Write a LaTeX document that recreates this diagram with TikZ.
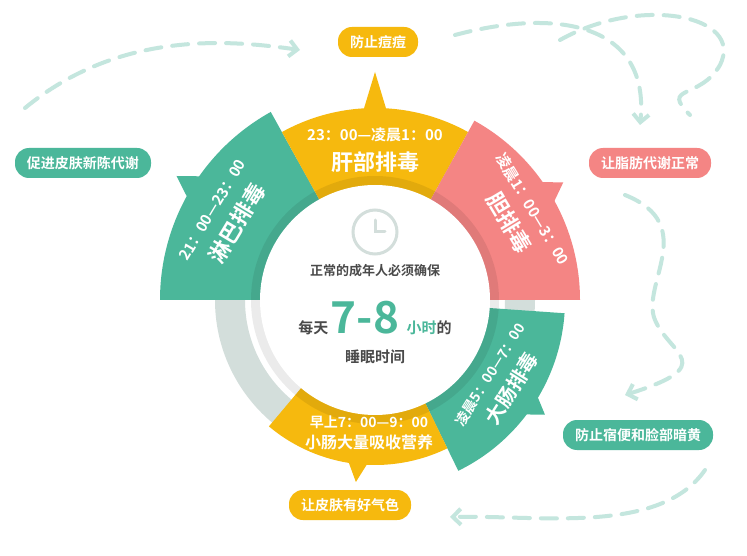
\documentclass[tikz,border=0pt]{standalone}
\usepackage{fontspec}
\setmainfont{Noto Sans CJK SC}[BoldFont={Noto Sans CJK SC Bold}]
\usetikzlibrary{arrows.meta}
\definecolor{cgreen}{HTML}{4BB79A}
\definecolor{cyellow}{HTML}{F6B90E}
\definecolor{cpink}{HTML}{F48584}
\definecolor{cgray}{HTML}{D3DEDB}
\definecolor{cdash}{HTML}{C4E6DE}
\definecolor{ctext}{HTML}{4A4A4A}
% annular sector: colour, start, end, inner, outer
\newcommand\segm[5]{\fill[#1] (#2:#4) arc[start angle=#2,end angle=#3,radius=#4] -- (#3:#5) arc[start angle=#3,end angle=#2,radius=#5] -- cycle;}
% tip on a sector: colour, angle, outer, tip radius
\newcommand\segtip[4]{\fill[#1] (#2-3.5:#3-2) -- (#2:#4) -- (#2+3.5:#3-2) -- cycle;}
\begin{document}
\begin{tikzpicture}[x=1pt,y=1pt,
    pill/.style={rounded corners=14pt,minimum height=30pt,text=white,font=\bfseries\fontsize{14}{16}\selectfont,inner xsep=12pt},
    dashline/.style={cdash,line width=4pt,dash pattern=on 16pt off 11pt,line cap=round,-{Straight Barb[length=8pt,width=16pt,line width=4pt]}},
    timetext/.style={text=white,font=\bfseries\fontsize{15}{17}\selectfont,inner sep=0pt},
    nametext/.style={text=white,font=\bfseries\fontsize{22}{24}\selectfont,inner sep=0pt}]
  \useasboundingbox (0,0) rectangle (747,555);
  \fill[white] (0,0) rectangle (747,555);

  % dashed guides
  \draw[dashline] (25,447) .. controls (120,525) and (230,515) .. (300,505);
  \draw[dashline] (455,520) .. controls (560,548) and (650,530) .. (640,430);
  \draw[cdash,line width=4pt,dash pattern=on 16pt off 11pt,line cap=round] (560,515) .. controls (640,560) and (745,540) .. (720,490) .. controls (700,455) and (660,470) .. (690,440);
  \draw[dashline] (625,360) .. controls (700,330) and (640,270) .. (655,235) .. controls (670,200) and (720,190) .. (625,160);
  \draw[dashline] (705,85) .. controls (660,20) and (540,40) .. (450,38);

  \begin{scope}[shift={(375,255)}]
    % gray ring
    \fill[cgray,even odd rule] (0,0) circle[radius=160] (0,0) circle[radius=130];
    % sectors
    \segm{cgreen}{119}{180}{113}{215}
    \segtip{cgreen}{148}{215}{234}
    \segm{cyellow}{61}{119}{113}{192}
    \segtip{cyellow}{90}{192}{228}
    \segm{cpink}{0}{61}{113}{205}
    \segtip{cpink}{32}{205}{222}
    \segm{cgreen}{-64}{-4}{113}{190}
    \segtip{cgreen}{-34}{190}{205}
    \segm{cyellow}{-130}{-64}{113}{165}
    \segtip{cyellow}{-96}{165}{183}
    % inner shade
    \fill[black,opacity=.08] (0,0) circle[radius=124];
    \fill[white] (0,0) circle[radius=115];
    % clock
    \draw[cgray,line width=3pt] (0,68) circle[radius=22];
    \draw[cgray,line width=3pt,line cap=round] (0,80) -- (0,68) -- (10,68);

    % centre text
    \node[text=ctext,font=\bfseries\fontsize{13}{15}\selectfont] (ctop) at (0,29) {正常的成年人必须确保};
    \node[font=\bfseries,inner sep=0pt] (cmid) at (0,-18) {\fontsize{15}{17}\selectfont\textcolor{ctext}{每天}\,\fontsize{44}{44}\selectfont\textcolor{cgreen}{7-8}\,\fontsize{15}{17}\selectfont\textcolor{cgreen}{小时}\textcolor{ctext}{的}};
    \node[text=ctext,font=\bfseries\fontsize{15}{17}\selectfont] (cbot) at (0,-57) {睡眠时间};

    % sector texts
    \node[timetext,rotate=59] (gtime) at (151:186) {21：00—23：00};
    \node[nametext,rotate=59] (gname) at (151:158) {淋巴排毒};
    \node[timetext] (ytime) at (90:165) {23：00—凌晨1：00};
    \node[nametext] (yname) at (90:138) {肝部排毒};
    \node[timetext,rotate=-59] (ptime) at (30:182) {凌晨1：00—3：00};
    \node[nametext,rotate=-59] (pname) at (30:155) {胆排毒};
    \node[timetext,font=\bfseries\fontsize{14}{16}\selectfont,rotate=58] (ttime) at (-33:137) {凌晨5：00—7：00};
    \node[nametext,font=\bfseries\fontsize{20}{22}\selectfont,rotate=58] (tname) at (-33:163) {大肠排毒};
    \node[timetext,font=\bfseries\fontsize{14}{16}\selectfont] (btime) at (-6,-122) {早上7：00—9：00};
    \node[nametext,font=\bfseries\fontsize{16}{18}\selectfont] (bname) at (-6,-142) {小肠大量吸收营养};
  \end{scope}

  % effect labels
  \node[pill,fill=cyellow] (acne) at (378,513) {防止痘痘};
  \node[pill,fill=cgreen] (skin) at (83,392) {促进皮肤新陈代谢};
  \node[pill,fill=cpink] (fat) at (650,392) {让脂肪代谢正常};
  \node[pill,fill=cgreen] (face) at (638,120) {防止宿便和脸部暗黄};
  \node[pill,fill=cyellow] (glow) at (350,50) {让皮肤有好气色};
\end{tikzpicture}
\end{document}
